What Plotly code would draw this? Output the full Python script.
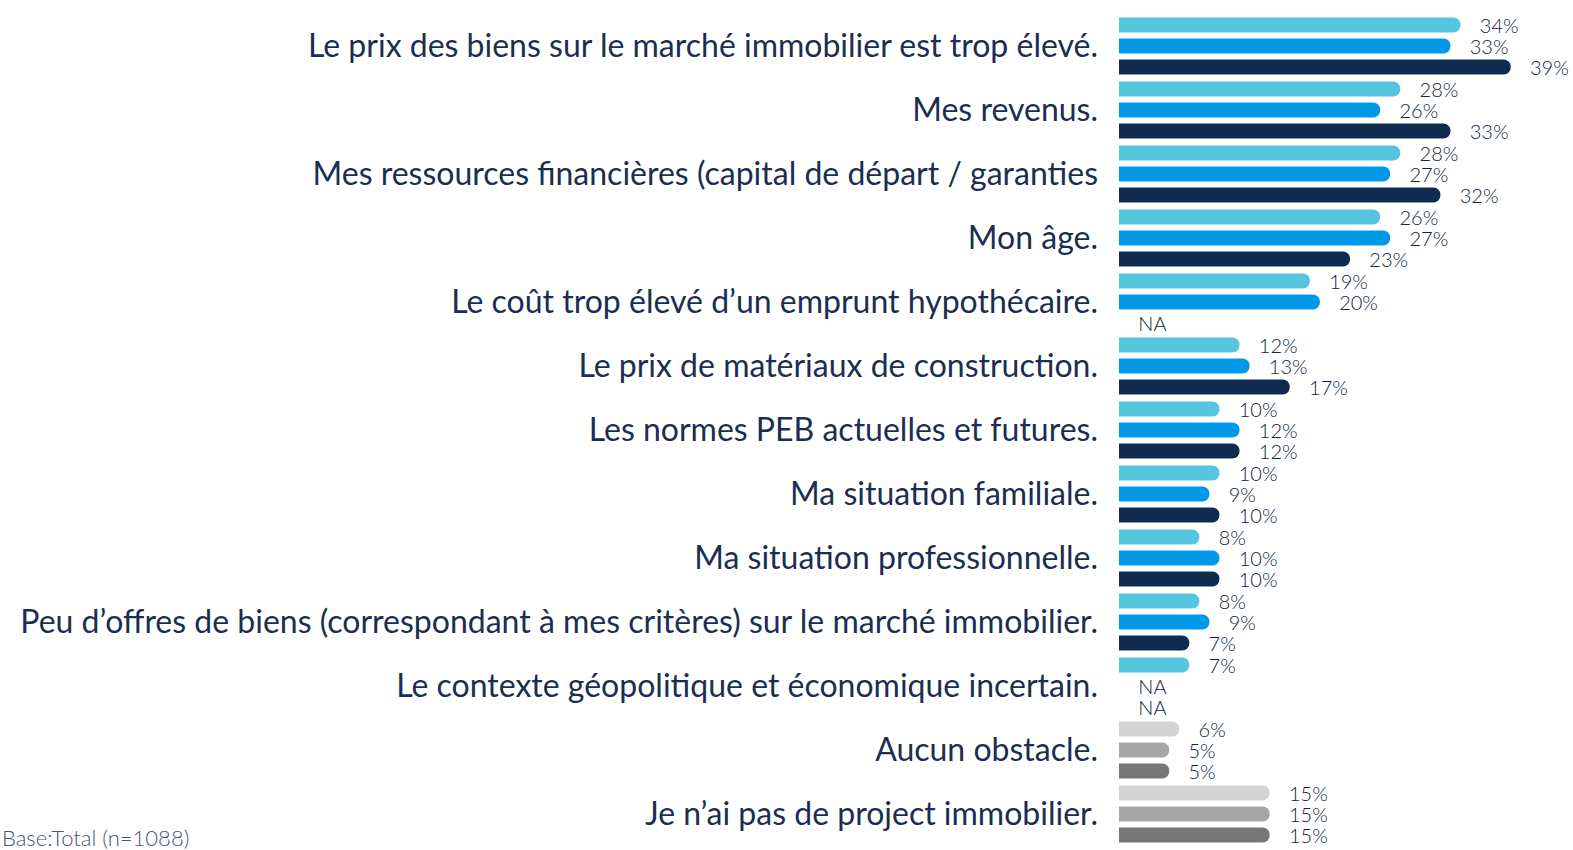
import plotly.graph_objects as go

categories = [
    "Le prix des biens sur le marché immobilier est trop élevé.",
    "Mes revenus.",
    "Mes ressources financières (capital de départ / garanties",
    "Mon âge.",
    "Le coût trop élevé d’un emprunt hypothécaire.",
    "Le prix de matériaux de construction.",
    "Les normes PEB actuelles et futures.",
    "Ma situation familiale.",
    "Ma situation professionnelle.",
    "Peu d’offres de biens (correspondant à mes critères) sur le marché immobilier.",
    "Le contexte géopolitique et économique incertain.",
    "Aucun obstacle.",
    "Je n’ai pas de project immobilier.",
]

series1 = [34, 28, 28, 26, 19, 12, 10, 10, 8, 8, 7, 6, 15]
series2 = [33, 26, 27, 27, 20, 13, 12, 9, 10, 9, None, 5, 15]
series3 = [39, 33, 32, 23, None, 17, 12, 10, 10, 7, None, 5, 15]

colors1 = ["#57C5E0"] * 11 + ["#D4D4D4"] * 2
colors2 = ["#0099EA"] * 11 + ["#A6A6A6"] * 2
colors3 = ["#0F2B50"] * 11 + ["#777777"] * 2

base_note = "Base:Total (n=1088)"

TEXT_COLOR = "#1B2E52"
VALUE_COLOR = "#0F2447"
PAD = "\u00a0\u00a0\u00a0"


def labels(vals):
    return [PAD + ("NA" if v is None else f"{v}%") for v in vals]


def values(vals):
    return [0 if v is None else v for v in vals]


fig = go.Figure()
for vals, cols in [(series1, colors1), (series2, colors2), (series3, colors3)]:
    fig.add_trace(go.Bar(
        y=categories,
        x=values(vals),
        orientation="h",
        marker=dict(color=cols, cornerradius=7, line=dict(width=0)),
        text=labels(vals),
        textposition="outside",
        textfont=dict(family="Lato", size=20, color=VALUE_COLOR, weight=300),
        cliponaxis=False,
        constraintext="none",
        hoverinfo="skip",
    ))

fig.update_layout(
    width=1573,
    height=850,
    margin=dict(l=1119, r=0, t=14, b=4),
    barmode="group",
    bargap=0.02,
    bargroupgap=0.28,
    showlegend=False,
    plot_bgcolor="white",
    paper_bgcolor="white",
    xaxis=dict(range=[0, 45.2], visible=False, fixedrange=True),
    yaxis=dict(
        autorange="reversed",
        automargin=False,
        showgrid=False,
        zeroline=False,
        showline=False,
        ticks="",
        ticklabelstandoff=20,
        tickfont=dict(family="Lato", size=32, color=TEXT_COLOR, weight=400),
    ),
    annotations=[dict(
        text=base_note,
        xref="paper", yref="paper",
        x=-2.4648, y=-0.008,
        xanchor="left", yanchor="bottom",
        showarrow=False,
        font=dict(family="Lato", size=22, color="#44557A", weight=300),
    )],
)

fig.write_html("out.html", config={"displayModeBar": False},
               post_script="document.body.style.margin='0';")
